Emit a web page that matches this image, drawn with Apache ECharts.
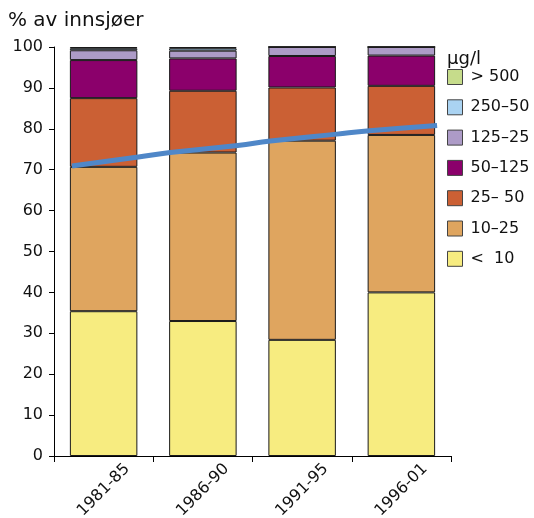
<!DOCTYPE html>
<html><head><meta charset="utf-8">
<script src="https://cdn.jsdelivr.net/npm/echarts@6/dist/echarts.min.js"></script>
<style>html,body{margin:0;padding:0;background:#fff}#c{width:534px;height:518px}</style>
</head><body><div id="c"></div>
<script>
const categories = ['1981-85', '1986-90', '1991-95', '1996-01'];
const yTicks = [0, 10, 20, 30, 40, 50, 60, 70, 80, 90, 100];
// stacked shares, bottom to top
const lt10    = [35.4, 33.0, 28.4, 40.0];
const s10_25  = [35.3, 41.2, 48.7, 38.5];
const s25_50  = [16.8, 15.1, 13.0, 12.0];
const s50_125 = [9.3, 7.9, 7.7, 7.4];
const s125_250 = [2.4, 1.9, 2.2, 2.1];
const s250_500 = [0.5, 0.6, 0, 0];
const gt500   = [0.3, 0.3, 0, 0];
// trend line (position in category units, value)
const trendX = [0.18, 0.85, 1.17, 1.85, 2.18, 2.85, 3.18, 3.86];
const trendY = [70.9, 73.1, 74.2, 75.9, 77.0, 78.7, 79.5, 80.8];

const seriesDefs = [
  {name: '<  10', data: lt10, color: '#f7ec80'},
  {name: '10–25', data: s10_25, color: '#dfa55f'},
  {name: '25– 50', data: s25_50, color: '#cb6034'},
  {name: '50–125', data: s50_125, color: '#8b006b'},
  {name: '125–25', data: s125_250, color: '#ad9bc7'},
  {name: '250–50', data: s250_500, color: '#aad3f2'},
  {name: '> 500', data: gt500, color: '#c6dc8b'}
];
const FONT = 'DejaVu Sans';
const chart = echarts.init(document.getElementById('c'));
const series = seriesDefs.map(d => ({
  name: d.name, type: 'bar', stack: 'all', data: d.data,
  barWidth: '68%', xAxisIndex: 0,
  itemStyle: {color: d.color, borderColor: '#1a1a1a', borderWidth: 1},
  emphasis: {disabled: true}
}));
series.push({
  name: 'trend', type: 'line', xAxisIndex: 1, smooth: true, showSymbol: false,
  data: trendX.map((x, i) => [x, trendY[i]]),
  lineStyle: {color: '#4f87c8', width: 5}, z: 10
});
chart.setOption({
  animation: false,
  textStyle: {fontFamily: FONT},
  title: [
    {text: '% av innsjøer', left: 3, top: 6, textStyle: {fontFamily: FONT, fontSize: 20, fontWeight: 'normal', color: '#111'}},
    {text: 'μg/l', left: 442, top: 45, textStyle: {fontFamily: FONT, fontSize: 18, fontWeight: 'normal', color: '#111'}}
  ],
  legend: {
    orient: 'vertical', left: 447, top: 69, padding: 0, itemWidth: 15, itemHeight: 15, itemGap: 14.3,
    data: seriesDefs.slice().reverse().map(d => ({name: d.name, icon: 'rect',
      itemStyle: {color: d.color, borderColor: '#444', borderWidth: 1}})),
    textStyle: {fontFamily: FONT, fontSize: 16, color: '#111', padding: [0, 0, 0, 3]},
    selectedMode: false
  },
  grid: {left: 54, right: 83, top: 47, bottom: 62, containLabel: false, outerBoundsMode: 'none'},
  xAxis: [
    {type: 'category', data: categories,
     axisLine: {lineStyle: {color: '#000', width: 1}},
     axisTick: {show: true, length: 6, lineStyle: {color: '#000'}},
     axisLabel: {rotate: 45, interval: 0, fontSize: 16, color: '#111', fontFamily: FONT,
       margin: 34, align: 'center', verticalAlign: 'middle'}},
    {type: 'value', min: 0, max: 4, show: false}
  ],
  yAxis: {type: 'value', min: 0, max: 100, interval: 10,
    axisLine: {show: true, lineStyle: {color: '#000'}},
    axisTick: {show: true, length: 5, lineStyle: {color: '#000'}},
    splitLine: {show: false},
    axisLabel: {fontSize: 16, color: '#111', fontFamily: FONT, margin: 11,
      formatter: v => yTicks.includes(v) ? String(v) : ''}},
  series: series
});
</script></body></html>
